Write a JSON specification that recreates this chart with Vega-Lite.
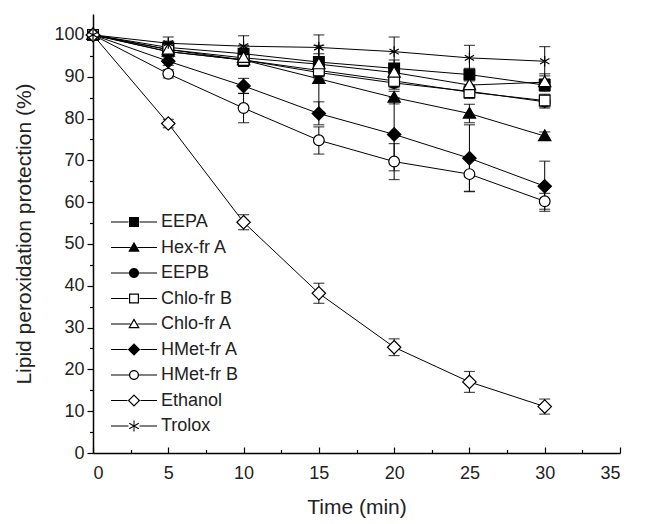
{
  "$schema": "https://vega.github.io/schema/vega-lite/v6.json",
  "width": 527,
  "height": 439,
  "autosize": "none",
  "padding": {"left": 93, "top": 14, "right": 30, "bottom": 71},
  "background": "white",
  "config": {
    "font": "Liberation Sans",
    "view": {"stroke": null},
    "axis": {"grid": false, "domainColor": "black", "tickColor": "black", "labelColor": "#222", "titleColor": "#222", "labelFont": "Liberation Sans", "titleFont": "Liberation Sans", "labelFontSize": 18, "titleFontSize": 21, "titleFontWeight": "normal", "domainWidth": 1.5, "tickWidth": 1.2}
  },
  "data": {
    "values": [
      {"s": "EEPA", "t": 0, "v": 100, "lo": 100, "hi": 100},
      {"s": "EEPA", "t": 5, "v": 97, "lo": 95.5, "hi": 98.5},
      {"s": "EEPA", "t": 10, "v": 95.5, "lo": 93.5, "hi": 97.5},
      {"s": "EEPA", "t": 15, "v": 93.5, "lo": 91.5, "hi": 95.5},
      {"s": "EEPA", "t": 20, "v": 92, "lo": 90, "hi": 94},
      {"s": "EEPA", "t": 25, "v": 90.5, "lo": 89, "hi": 92},
      {"s": "EEPA", "t": 30, "v": 88, "lo": 86.5, "hi": 89.5},
      {"s": "Hex-fr A", "t": 0, "v": 100, "lo": 100, "hi": 100},
      {"s": "Hex-fr A", "t": 5, "v": 96, "lo": 95, "hi": 97},
      {"s": "Hex-fr A", "t": 10, "v": 94, "lo": 92.5, "hi": 95.5},
      {"s": "Hex-fr A", "t": 15, "v": 89.5, "lo": 81.5, "hi": 97.5},
      {"s": "Hex-fr A", "t": 20, "v": 85, "lo": 83.5, "hi": 86.5},
      {"s": "Hex-fr A", "t": 25, "v": 81.2, "lo": 79, "hi": 83.4},
      {"s": "Hex-fr A", "t": 30, "v": 75.8, "lo": 74.8, "hi": 76.8},
      {"s": "EEPB", "t": 0, "v": 100, "lo": 100, "hi": 100},
      {"s": "EEPB", "t": 5, "v": 96, "lo": 95, "hi": 97},
      {"s": "EEPB", "t": 10, "v": 94, "lo": 92.5, "hi": 95.5},
      {"s": "EEPB", "t": 15, "v": 91, "lo": 89.5, "hi": 92.5},
      {"s": "EEPB", "t": 20, "v": 88.5, "lo": 87, "hi": 90},
      {"s": "EEPB", "t": 25, "v": 86.5, "lo": 85, "hi": 88},
      {"s": "EEPB", "t": 30, "v": 84, "lo": 82.5, "hi": 85.5},
      {"s": "Chlo-fr B", "t": 0, "v": 100, "lo": 100, "hi": 100},
      {"s": "Chlo-fr B", "t": 5, "v": 96.5, "lo": 95.5, "hi": 97.5},
      {"s": "Chlo-fr B", "t": 10, "v": 94, "lo": 92.5, "hi": 95.5},
      {"s": "Chlo-fr B", "t": 15, "v": 91.5, "lo": 90, "hi": 93},
      {"s": "Chlo-fr B", "t": 20, "v": 89, "lo": 87.5, "hi": 90.5},
      {"s": "Chlo-fr B", "t": 25, "v": 86.3, "lo": 84.8, "hi": 87.8},
      {"s": "Chlo-fr B", "t": 30, "v": 84.3, "lo": 82.8, "hi": 85.8},
      {"s": "Chlo-fr A", "t": 0, "v": 100, "lo": 100, "hi": 100},
      {"s": "Chlo-fr A", "t": 5, "v": 96.5, "lo": 95.5, "hi": 97.5},
      {"s": "Chlo-fr A", "t": 10, "v": 94.5, "lo": 93, "hi": 96},
      {"s": "Chlo-fr A", "t": 15, "v": 93, "lo": 91.5, "hi": 94.5},
      {"s": "Chlo-fr A", "t": 20, "v": 91, "lo": 89.5, "hi": 92.5},
      {"s": "Chlo-fr A", "t": 25, "v": 88, "lo": 86.5, "hi": 89.5},
      {"s": "Chlo-fr A", "t": 30, "v": 88.7, "lo": 86.7, "hi": 90.7},
      {"s": "HMet-fr A", "t": 0, "v": 100, "lo": 100, "hi": 100},
      {"s": "HMet-fr A", "t": 5, "v": 93.7, "lo": 92.7, "hi": 94.7},
      {"s": "HMet-fr A", "t": 10, "v": 87.8, "lo": 86, "hi": 89.6},
      {"s": "HMet-fr A", "t": 15, "v": 81.2, "lo": 78.5, "hi": 84},
      {"s": "HMet-fr A", "t": 20, "v": 76.2, "lo": 67.5, "hi": 85},
      {"s": "HMet-fr A", "t": 25, "v": 70.5, "lo": 62.5, "hi": 78.5},
      {"s": "HMet-fr A", "t": 30, "v": 63.8, "lo": 57.8, "hi": 69.8},
      {"s": "HMet-fr B", "t": 0, "v": 100, "lo": 100, "hi": 100},
      {"s": "HMet-fr B", "t": 5, "v": 90.7, "lo": 89.7, "hi": 91.7},
      {"s": "HMet-fr B", "t": 10, "v": 82.5, "lo": 79, "hi": 86},
      {"s": "HMet-fr B", "t": 15, "v": 74.8, "lo": 71.5, "hi": 78},
      {"s": "HMet-fr B", "t": 20, "v": 69.7, "lo": 65.4, "hi": 74},
      {"s": "HMet-fr B", "t": 25, "v": 66.7, "lo": 62.6, "hi": 70.8},
      {"s": "HMet-fr B", "t": 30, "v": 60.2, "lo": 58.3, "hi": 62.1},
      {"s": "Ethanol", "t": 0, "v": 100, "lo": 100, "hi": 100},
      {"s": "Ethanol", "t": 5, "v": 78.8, "lo": 77.8, "hi": 79.8},
      {"s": "Ethanol", "t": 10, "v": 55.2, "lo": 53.4, "hi": 57},
      {"s": "Ethanol", "t": 15, "v": 38.2, "lo": 35.8, "hi": 40.6},
      {"s": "Ethanol", "t": 20, "v": 25.3, "lo": 23.3, "hi": 27.3},
      {"s": "Ethanol", "t": 25, "v": 17, "lo": 14.5, "hi": 19.5},
      {"s": "Ethanol", "t": 30, "v": 11.1, "lo": 9.3, "hi": 12.9},
      {"s": "Trolox", "t": 0, "v": 100, "lo": 100, "hi": 100},
      {"s": "Trolox", "t": 5, "v": 98, "lo": 96.5, "hi": 99.5},
      {"s": "Trolox", "t": 10, "v": 97.3, "lo": 94.8, "hi": 99.8},
      {"s": "Trolox", "t": 15, "v": 97, "lo": 94, "hi": 100},
      {"s": "Trolox", "t": 20, "v": 96, "lo": 92.5, "hi": 99.5},
      {"s": "Trolox", "t": 25, "v": 94.5, "lo": 91.5, "hi": 97.5},
      {"s": "Trolox", "t": 30, "v": 93.7, "lo": 90.2, "hi": 97.2}
    ]
  },
  "encoding": {
    "x": {"field": "t", "type": "quantitative", "title": "Time (min)",
          "scale": {"domain": [0, 35], "nice": false},
          "axis": {"values": [0, 2.5, 5, 7.5, 10, 12.5, 15, 17.5, 20, 22.5, 25, 27.5, 30, 32.5, 35],
                   "labelExpr": "datum.value % 5 === 0 ? datum.label : ''",
                   "tickSize": {"condition": {"test": "datum.value % 5 === 0", "value": -6}, "value": -3.5},
                   "labelPadding": 17, "titlePadding": 14}},
    "y": {"field": "v", "type": "quantitative", "title": "Lipid peroxidation protection (%)",
          "scale": {"domain": [0, 105], "nice": false},
          "axis": {"values": [0, 5, 10, 15, 20, 25, 30, 35, 40, 45, 50, 55, 60, 65, 70, 75, 80, 85, 90, 95, 100],
                   "labelExpr": "datum.value % 10 === 0 ? datum.label : ''",
                   "tickSize": {"condition": {"test": "datum.value % 10 === 0", "value": 6}, "value": 3.5},
                   "labelPadding": 3, "titlePadding": 19}}
  },
  "layer": [
    {
      "mark": {"type": "line", "color": "black", "strokeWidth": 1},
      "encoding": {"detail": {"field": "s"}}
    },
    {
      "mark": {"type": "rule", "color": "black", "strokeWidth": 1},
      "encoding": {
        "detail": {"field": "s"},
        "y": {"field": "lo", "type": "quantitative"},
        "y2": {"field": "hi"}
      }
    },
    {
      "mark": {"type": "tick", "color": "black", "orient": "horizontal", "size": 11, "thickness": 1.2},
      "encoding": {"detail": {"field": "s"}, "y": {"field": "lo", "type": "quantitative"}}
    },
    {
      "mark": {"type": "tick", "color": "black", "orient": "horizontal", "size": 11, "thickness": 1.2},
      "encoding": {"detail": {"field": "s"}, "y": {"field": "hi", "type": "quantitative"}}
    },
    {
      "mark": {"type": "point", "stroke": "black", "strokeWidth": 1.2, "size": 115, "opacity": 1},
      "encoding": {
        "shape": {"field": "s", "type": "nominal", "legend": null,
          "scale": {"domain": ["EEPA", "Hex-fr A", "EEPB", "Chlo-fr B", "Chlo-fr A", "HMet-fr A", "HMet-fr B", "Ethanol", "Trolox"],
                    "range": ["square", "M0,-1.15L1.15,0.85H-1.15Z", "circle", "square", "M0,-1.15L1.15,0.85H-1.15Z", "M0,-1.25L1.25,0L0,1.25L-1.25,0Z", "circle", "M0,-1.25L1.25,0L0,1.25L-1.25,0Z", "M0,-1V1M-0.87,-0.5L0.87,0.5M-0.87,0.5L0.87,-0.5"]}},
        "fill": {"field": "s", "type": "nominal", "legend": null,
          "scale": {"domain": ["EEPA", "Hex-fr A", "EEPB", "Chlo-fr B", "Chlo-fr A", "HMet-fr A", "HMet-fr B", "Ethanol", "Trolox"],
                    "range": ["black", "black", "black", "white", "white", "black", "white", "white", "black"]}}
      }
    },
    {
      "mark": {"type": "point", "filled": true, "fill": "black", "size": 0, "opacity": 1},
      "encoding": {
        "shape": {"field": "s", "type": "nominal",
          "scale": {"domain": ["EEPA", "Hex-fr A", "EEPB", "Chlo-fr B", "Chlo-fr A", "HMet-fr A", "HMet-fr B", "Ethanol", "Trolox"],
                    "range": [
                      "M-4.6,-0.1H-1.1V0.1H-4.6ZM1.1,-0.1H4.6V0.1H1.1ZM-1,-1H1V1H-1Z",
                      "M-4.6,-0.1H-0.7V0.1H-4.6ZM0.7,-0.1H4.6V0.1H0.7ZM0,-1.15L1.15,0.85H-1.15Z",
                      "M-4.6,-0.1H-0.95V0.1H-4.6ZM0.95,-0.1H4.6V0.1H0.95ZM1,0A1,1,0,1,1,-1,0A1,1,0,1,1,1,0Z",
                      "M-4.6,-0.1H-1.1V0.1H-4.6ZM1.1,-0.1H4.6V0.1H1.1ZM-1,-1H1V1H-1ZM-0.76,-0.76V0.76H0.76V-0.76Z",
                      "M-4.6,-0.1H-0.7V0.1H-4.6ZM0.7,-0.1H4.6V0.1H0.7ZM0,-1.15L1.15,0.85H-1.15ZM0,-0.67L-0.74,0.61H0.74Z",
                      "M-4.6,-0.1H-1.3V0.1H-4.6ZM1.3,-0.1H4.6V0.1H1.3ZM0,-1.25L1.25,0L0,1.25L-1.25,0Z",
                      "M-4.6,-0.1H-0.95V0.1H-4.6ZM0.95,-0.1H4.6V0.1H0.95ZM1,0A1,1,0,1,1,-1,0A1,1,0,1,1,1,0ZM0.76,0A0.76,0.76,0,1,0,-0.76,0A0.76,0.76,0,1,0,0.76,0Z",
                      "M-4.6,-0.1H-1.3V0.1H-4.6ZM1.3,-0.1H4.6V0.1H1.3ZM0,-1.25L1.25,0L0,1.25L-1.25,0ZM0,-0.91L-0.91,0L0,0.91L0.91,0Z",
                      "M-4.6,-0.1H-1.1V0.1H-4.6ZM1.1,-0.1H4.6V0.1H1.1ZM-0.1,-1.1H0.1V1.1H-0.1ZM-1,-0.463L-0.9,-0.637L1,0.463L0.9,0.637ZM-0.9,0.637L-1,0.463L0.9,-0.637L1,-0.463Z"
                    ]},
          "legend": {
            "title": null, "orient": "none", "legendX": 32, "legendY": 199,
            "labelFontSize": 18, "labelColor": "#222", "labelFont": "Liberation Sans",
            "symbolSize": 100, "symbolStrokeWidth": 0, "symbolFillColor": "black",
            "labelOffset": 18, "rowPadding": 7.5
          }}
      }
    }
  ],
  "resolve": {"scale": {"shape": "independent"}, "legend": {"shape": "independent"}}
}
